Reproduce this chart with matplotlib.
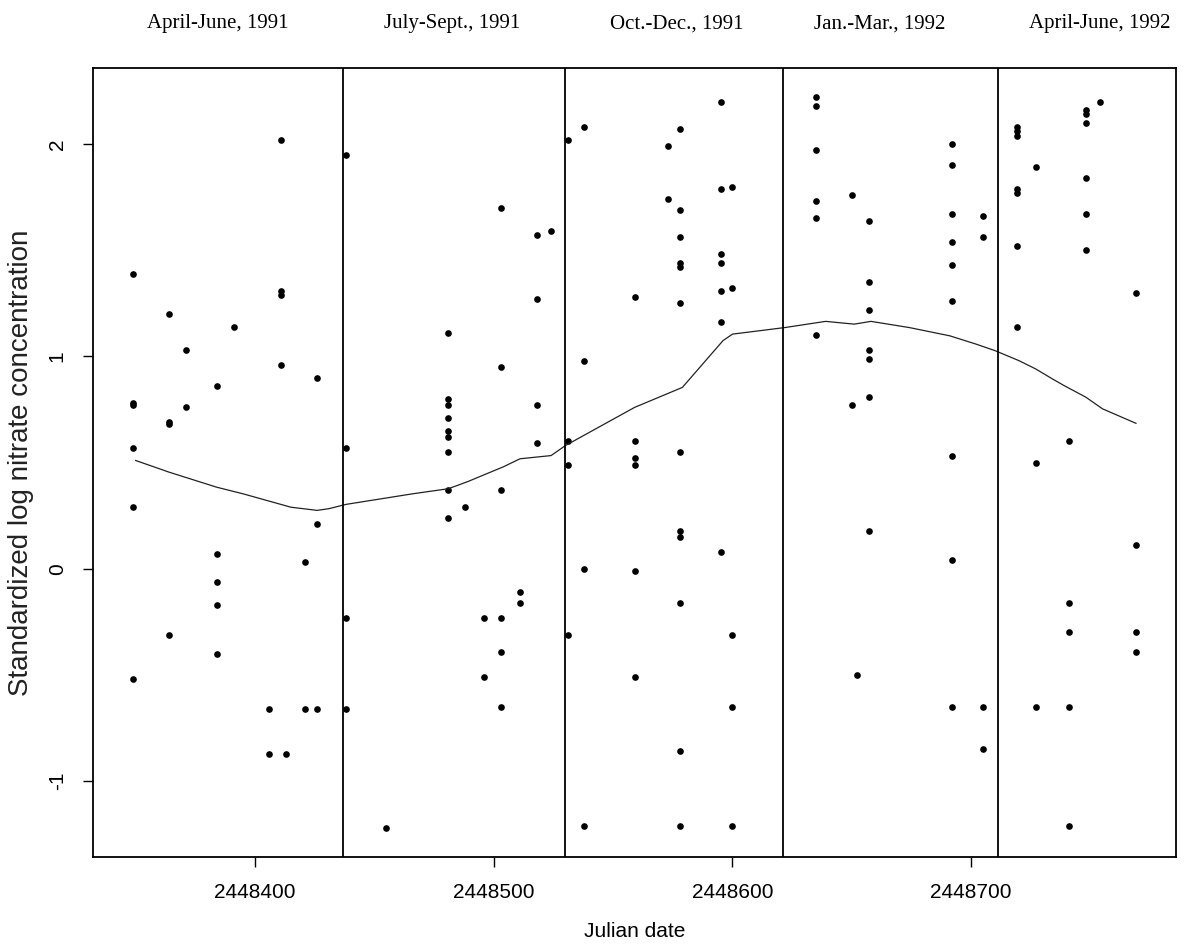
import matplotlib
matplotlib.use("Agg")
import matplotlib.pyplot as plt
import numpy as np

# julian dates with the standardized values sampled on each date
dates = [2448349, 2448364, 2448371, 2448384, 2448391, 2448406, 2448411, 2448413,
         2448421, 2448426, 2448438, 2448455, 2448481, 2448488, 2448496, 2448503,
         2448511, 2448518, 2448524, 2448531, 2448538, 2448559, 2448573, 2448578,
         2448595, 2448600, 2448635, 2448650, 2448652, 2448657, 2448692, 2448705,
         2448719, 2448727, 2448741, 2448748, 2448754, 2448769]
values = [[1.39, 0.78, 0.77, 0.57, 0.29, -0.52],
          [1.20, 0.69, 0.68, -0.31],
          [1.03, 0.76],
          [0.86, 0.07, -0.06, -0.17, -0.40],
          [1.14],
          [-0.66, -0.87],
          [2.02, 1.31, 1.29, 0.96],
          [-0.87],
          [0.03, -0.66],
          [0.90, 0.21, -0.66],
          [1.95, 0.57, -0.23, -0.66],
          [-1.22],
          [1.11, 0.80, 0.77, 0.71, 0.65, 0.62, 0.55, 0.37, 0.24],
          [0.29],
          [-0.23, -0.51],
          [1.70, 0.95, 0.37, -0.23, -0.39, -0.65],
          [-0.11, -0.16],
          [1.57, 1.27, 0.77, 0.59],
          [1.59],
          [2.02, 0.60, 0.49, -0.31],
          [2.08, 0.98, 0.00, -1.21],
          [1.28, 0.60, 0.52, 0.49, -0.01, -0.51],
          [1.99, 1.74],
          [2.07, 1.69, 1.56, 1.44, 1.42, 1.25, 0.55, 0.18, 0.15, -0.16, -0.86, -1.21],
          [2.20, 1.79, 1.48, 1.44, 1.31, 1.16, 0.08],
          [1.80, 1.32, -0.31, -0.65, -1.21],
          [2.22, 2.18, 1.97, 1.73, 1.65, 1.10],
          [1.76, 0.77],
          [-0.50],
          [1.64, 1.35, 1.22, 1.03, 0.99, 0.81, 0.18],
          [2.00, 1.90, 1.67, 1.54, 1.43, 1.26, 0.53, 0.04, -0.65],
          [1.66, 1.56, -0.65, -0.85],
          [2.08, 2.06, 2.04, 1.79, 1.77, 1.52, 1.14],
          [1.89, 0.50, -0.65],
          [0.60, -0.16, -0.30, -0.65, -1.21],
          [2.16, 2.14, 2.10, 1.84, 1.67, 1.50],
          [2.20],
          [1.30, 0.11, -0.30, -0.39]]

# smoothed trend
smooth_dates = [2448350, 2448364, 2448384, 2448395, 2448415, 2448426, 2448431,
                2448438, 2448466, 2448481, 2448489, 2448504, 2448511, 2448524,
                2448530, 2448559, 2448579, 2448596, 2448600, 2448622, 2448639,
                2448651, 2448658, 2448674, 2448691, 2448702, 2448710, 2448720,
                2448727, 2448734, 2448739, 2448748, 2448755, 2448769]
smooth_values = [0.51, 0.455, 0.384, 0.353, 0.29, 0.275, 0.283, 0.303, 0.353,
                 0.377, 0.41, 0.48, 0.518, 0.533, 0.58, 0.76, 0.854, 1.074,
                 1.105, 1.136, 1.165, 1.152, 1.165, 1.136, 1.097, 1.058, 1.027,
                 0.98, 0.941, 0.894, 0.862, 0.808, 0.753, 0.685]

# quarter boundaries and labels
bounds = [2448437, 2448530, 2448621, 2448711]
quarters = ["April-June, 1991", "July-Sept., 1991", "Oct.-Dec., 1991",
            "Jan.-Mar., 1992", "April-June, 1992"]
xticks = [2448400, 2448500, 2448600, 2448700]
yticks = [-1, 0, 1, 2]

xs = np.concatenate([[d] * len(v) for d, v in zip(dates, values)])
ys = np.concatenate(values)

plt.rcParams['font.family'] = ['Liberation Sans', 'DejaVu Sans']
fig = plt.figure(figsize=(11.94, 9.46), dpi=100)
ax = fig.add_axes([0.078, 0.094, 0.907, 0.834])

ax.plot(xs, ys, 'o', color='black', markersize=4.8, markeredgewidth=0)
ax.plot(smooth_dates, smooth_values, color='#222222', linewidth=0.9)
for b in bounds:
    ax.axvline(b, color='black', linewidth=1.3)

pad_x = 0.04 * (xs.max() - xs.min())
pad_y = 0.04 * (ys.max() - ys.min())
ax.set_xlim(xs.min() - pad_x, xs.max() + pad_x)
ax.set_ylim(ys.min() - pad_y, ys.max() + pad_y)

ax.set_xticks(xticks)
ax.set_xticklabels([str(t) for t in xticks])
ax.set_yticks(yticks)
ax.set_yticklabels([str(t) for t in yticks], rotation=90, va='center')
ax.tick_params(axis='both', direction='out', length=7, width=1, labelsize=15, pad=12)
for s in ax.spines.values():
    s.set_linewidth(1.3)

ax.set_xlabel("Julian date", fontsize=15, labelpad=14)
ax.set_ylabel("Standardized log nitrate concentration", fontsize=20, labelpad=10,
              color='#222222')

# quarter labels over the plot (small nudges in points)
nudges = [0, -2, 3, -10, 13]
edges = [ax.get_xlim()[0]] + bounds + [ax.get_xlim()[1]]
for i, q in enumerate(quarters):
    mid = (edges[i] + edges[i + 1]) / 2
    ax.annotate(q, xy=(mid, 1.056), xycoords=ax.get_xaxis_transform(),
                xytext=(nudges[i] * 0.72, 0), textcoords='offset points',
                ha='center', va='center', fontsize=15,
                family=['Liberation Serif', 'DejaVu Serif'])

fig.savefig("out.png", dpi=100)
